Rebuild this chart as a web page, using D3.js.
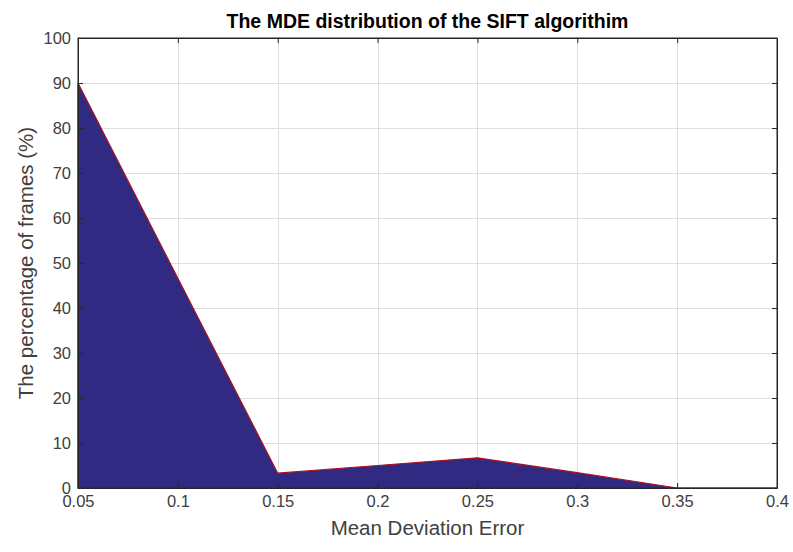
<!DOCTYPE html>
<html>
<head>
<meta charset="utf-8">
<script src="https://cdn.jsdelivr.net/npm/d3@7/dist/d3.min.js"></script>
<style>
  html, body { margin: 0; padding: 0; background: #fff; }
  svg { display: block; font-family: "Liberation Sans", Arial, Helvetica, sans-serif; }
</style>
</head>
<body>
<svg id="chart" width="793" height="552"></svg>
<script>
// Mean deviation error bins and share of frames in each (%)
const mdeBins = [0.05, 0.10, 0.15, 0.20, 0.25, 0.30, 0.35, 0.40];
const framePct = [90, 46.6, 3.3, 5.0, 6.7, 3.4, 0, 0];
const xTicks = [0.05, 0.1, 0.15, 0.2, 0.25, 0.3, 0.35, 0.4];
const yTicks = [0, 10, 20, 30, 40, 50, 60, 70, 80, 90, 100];

const titleText = "The MDE distribution of the SIFT algorithim";
const xLabel = "Mean Deviation Error";
const yLabel = "The percentage of frames (%)";

const svg = d3.select("#chart");
const margin = { left: 78, right: 16, top: 38, bottom: 64 };
const W = 793, H = 552;
const x = d3.scaleLinear().domain([0.05, 0.4]).range([margin.left, W - margin.right]);
const y = d3.scaleLinear().domain([0, 100]).range([H - margin.bottom, margin.top]);

const data = mdeBins.map((b, i) => ({ b, v: framePct[i] }));

// grid
const grid = svg.append("g").attr("stroke", "#dedede").attr("stroke-width", 1);
xTicks.forEach(t => grid.append("line")
  .attr("x1", Math.round(x(t)) + 0.5).attr("x2", Math.round(x(t)) + 0.5)
  .attr("y1", y(0)).attr("y2", y(100)));
yTicks.forEach(t => grid.append("line")
  .attr("y1", Math.round(y(t)) + 0.5).attr("y2", Math.round(y(t)) + 0.5)
  .attr("x1", x(0.05)).attr("x2", x(0.4)));

// filled area with red edge
const area = d3.area().x(d => x(d.b)).y0(y(0)).y1(d => y(d.v));
svg.append("path").datum(data)
  .attr("d", area)
  .attr("fill", "#312a82")
  .attr("stroke", "#b0101a")
  .attr("stroke-width", 1.2)
  .attr("stroke-linejoin", "miter");

// axes: bottom/left with labels, top/right ticks only (box)
const tickColor = "#262626";
const xAxis = d3.axisBottom(x).tickValues(xTicks).tickSizeInner(-5).tickSizeOuter(0)
  .tickFormat(d3.format("~g")).tickPadding(7);
const yAxis = d3.axisLeft(y).tickValues(yTicks).tickSizeInner(-5).tickSizeOuter(0)
  .tickFormat(d3.format("d")).tickPadding(7);

const gx = svg.append("g").attr("transform", `translate(0,${y(0)})`).call(xAxis);
const gy = svg.append("g").attr("transform", `translate(${x(0.05)},0)`).call(yAxis);
const gxt = svg.append("g").attr("transform", `translate(0,${y(100)})`)
  .call(d3.axisTop(x).tickValues(xTicks).tickSizeInner(-5).tickSizeOuter(0).tickFormat(""));
const gyr = svg.append("g").attr("transform", `translate(${x(0.4)},0)`)
  .call(d3.axisRight(y).tickValues(yTicks).tickSizeInner(-5).tickSizeOuter(0).tickFormat(""));

[gx, gy, gxt, gyr].forEach(g => {
  g.select(".domain").attr("stroke", tickColor).attr("stroke-width", 1);
  g.selectAll(".tick line").attr("stroke", tickColor);
  g.selectAll(".tick text").attr("fill", "#404040").attr("font-size", 16.5)
    .attr("font-family", "'Liberation Sans', Arial, sans-serif");
});
// redraw box on top of the fill
svg.append("rect")
  .attr("x", x(0.05)).attr("y", y(100))
  .attr("width", x(0.4) - x(0.05)).attr("height", y(0) - y(100))
  .attr("fill", "none").attr("stroke", tickColor).attr("stroke-width", 1);

// title and axis labels
svg.append("text").attr("x", (x(0.05) + x(0.4)) / 2).attr("y", 28)
  .attr("text-anchor", "middle").attr("font-weight", "bold").attr("font-size", 19.5)
  .attr("fill", "#000").text(titleText);
svg.append("text").attr("x", (x(0.05) + x(0.4)) / 2).attr("y", 535)
  .attr("text-anchor", "middle").attr("font-size", 20.5).attr("fill", "#404040").text(xLabel);
svg.append("text").attr("transform", `translate(33,${(y(0) + y(100)) / 2}) rotate(-90)`)
  .attr("text-anchor", "middle").attr("font-size", 20.5).attr("fill", "#404040").text(yLabel);
</script>
</body>
</html>
